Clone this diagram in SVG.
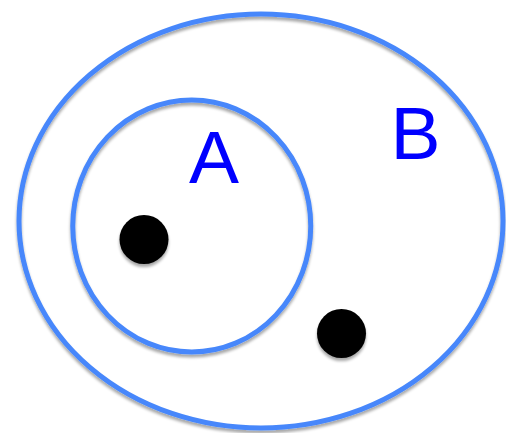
<svg xmlns="http://www.w3.org/2000/svg" width="506" height="433" viewBox="0 0 506 433">
  <defs>
    <filter id="sh" x="-10%" y="-10%" width="120%" height="125%">
      <feGaussianBlur in="SourceAlpha" stdDeviation="1.6"/>
      <feOffset dx="0" dy="2.5" result="b"/>
      <feComponentTransfer><feFuncA type="linear" slope="0.35"/></feComponentTransfer>
      <feMerge><feMergeNode/><feMergeNode in="SourceGraphic"/></feMerge>
    </filter>
  </defs>
  <style>
    .set{fill:none;stroke:#4787FB;stroke-width:5;filter:url(#sh)}
    .dot{fill:#000;filter:url(#sh)}
    .lbl{font-family:"Liberation Sans",Arial,sans-serif;font-size:75px;fill:#0000FF;text-anchor:middle}
  </style>
  <rect width="506" height="433" fill="#fff"/>
  <g id="setB">
    <ellipse class="set" cx="261" cy="221" rx="242" ry="207"/>
    <text class="lbl" x="415.5" y="159">B</text>
  </g>
  <g id="setA">
    <ellipse class="set" cx="191.75" cy="226" rx="119" ry="126"/>
    <text class="lbl" x="214" y="183">A</text>
  </g>
  <g id="dot1">
    <circle class="dot" cx="144" cy="239.5" r="24.5"/>
  </g>
  <g id="dot2">
    <circle class="dot" cx="341.5" cy="333.5" r="24.5"/>
  </g>
  <g id="connectors"/>
</svg>
